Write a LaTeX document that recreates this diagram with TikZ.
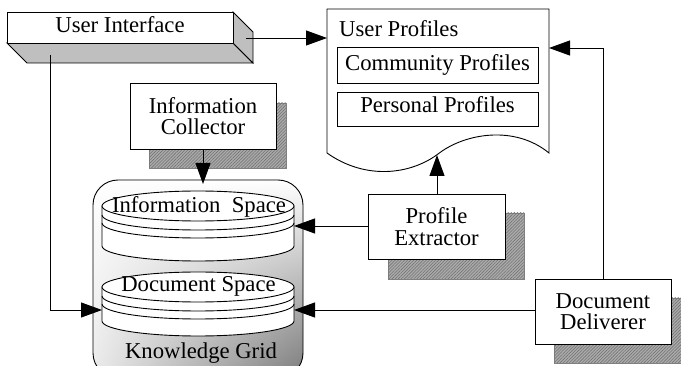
\documentclass[tikz,border=0pt]{standalone}
\usepackage{fontspec}
\setmainfont{Liberation Serif}
\usetikzlibrary{arrows.meta,patterns.meta,fadings}

\tikzset{
  every node/.style={font=\fontsize{22.7}{21.5}\selectfont, inner sep=0pt},
  line/.style={line width=0.9pt},
  arr/.style={line, -{Triangle[length=21pt,width=15pt]}},
  procbox/.style={draw, line width=0.9pt, fill=white, align=center},
  dropshadow/.style={fill=black!33, draw=black!50, line width=0.6pt,
    postaction={pattern={Lines[angle=45,distance=2.2pt,line width=0.6pt]}, pattern color=black!55}},
  faceshade/.style={fill=black!25, draw, line width=0.9pt},
  disk/.style={fill=white, draw, line width=0.9pt},
  gridshape/.style={rounded corners=25pt},
}

\begin{document}
\begin{tikzpicture}[x=1pt,y=1pt]
\useasboundingbox (0,0) rectangle (681,-366);

% ---------- User Interface (raised slab) ----------
\filldraw[faceshade] (7,-43) -- (233,-43) -- (253,-63) -- (27,-63) -- cycle;
\filldraw[faceshade] (233,-12) -- (253,-32) -- (253,-63) -- (233,-43) -- cycle;
\filldraw[fill=white, line] (7,-12) rectangle (233,-43);
\node[anchor=base] (uitext) at (120,-33) {User Interface};
\coordinate (ui-e) at (246,-38);
\coordinate (ui-s) at (50,-55);

% ---------- User Profiles (document shape) ----------
\filldraw[fill=white, line] (327,-153) -- (327,-9) -- (549,-9) -- (549,-153)
  .. controls (515,-125) and (465,-133) .. (438,-154)
  .. controls (410,-175) and (365,-180) .. (327,-153) -- cycle;
\node[anchor=base west] (uptitle) at (339,-37) {User Profiles};
\node[procbox, minimum width=201pt, minimum height=36pt] (community) at (437.5,-65) {};
\node[anchor=base] at (437.5,-71) {Community Profiles};
\node[procbox, minimum width=201pt, minimum height=34pt] (personal) at (437.5,-109) {};
\node[anchor=base] at (437.5,-113) {Personal Profiles};
\coordinate (up-w) at (327,-38);
\coordinate (up-e) at (549,-48);
\coordinate (up-s) at (437,-155);

% ---------- Information Collector ----------
\fill[dropshadow] (149,-103) rectangle (286,-168);
\node[procbox, minimum width=146pt, minimum height=66pt] (collector) at (203,-116)
  {Information\\Collector};

% ---------- Knowledge Grid ----------
% light-to-dark from left to right, washed out to white towards the top
\shade[gridshape, left color=black!8, right color=black!52] (93,-180) rectangle (303,-378);
\fill[gridshape, white, path fading=south] (93,-180) rectangle (303,-378);
\draw[gridshape, line] (93,-180) rectangle (303,-378);
\node[anchor=base] (kgtext) at (201,-359) {Knowledge Grid};

% Information Space store
\filldraw[disk] (102,-206) -- (102,-246) arc[start angle=180, end angle=360, x radius=96, y radius=15] -- (294,-206) -- cycle;
\filldraw[disk] (198,-206) ellipse[x radius=96, y radius=15];
\draw[line] (102,-215) arc[start angle=180, end angle=360, x radius=96, y radius=15];
\draw[line] (102,-223) arc[start angle=180, end angle=360, x radius=96, y radius=15];
\node[anchor=base] (infospace) at (199,-213) {Information~ Space};
\coordinate (is-e) at (294,-226);

% Document Space store
\filldraw[disk] (102,-287) -- (102,-321) arc[start angle=180, end angle=360, x radius=96, y radius=15] -- (294,-287) -- cycle;
\filldraw[disk] (198,-287) ellipse[x radius=96, y radius=15];
\draw[line] (102,-296) arc[start angle=180, end angle=360, x radius=96, y radius=15];
\draw[line] (102,-304) arc[start angle=180, end angle=360, x radius=96, y radius=15];
\node[anchor=base] (docspace) at (198.5,-292) {Document Space};
\coordinate (ds-e) at (294,-310);
\coordinate (ds-w) at (102,-310);

% ---------- Profile Extractor ----------
\fill[dropshadow] (388,-213) rectangle (524,-279);
\node[procbox, minimum width=137pt, minimum height=65pt] (extractor) at (436.5,-226.5)
  {Profile\\Extractor};

% ---------- Document Deliverer ----------
\fill[dropshadow] (554,-298) rectangle (692,-363);
\node[procbox, minimum width=136pt, minimum height=65pt] (deliverer) at (603,-311.5)
  {Document\\Deliverer};

% ---------- Connectors ----------
\draw[arr] (ui-e) -- (up-w);
\draw[arr] (ui-s) |- (ds-w);
\draw[arr] (collector.south) -- (203,-184);
\draw[arr] (extractor.north -| up-s) -- (up-s);
\draw[arr] (extractor.west |- is-e) -- (is-e);
\draw[arr] (deliverer.west |- ds-e) -- (ds-e);
\draw[arr] (deliverer.north) |- (up-e);
\end{tikzpicture}
\end{document}
